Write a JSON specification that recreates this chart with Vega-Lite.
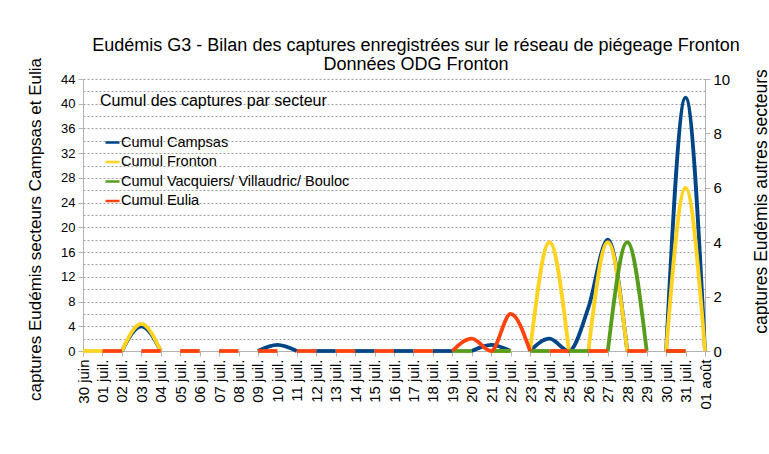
{
  "$schema": "https://vega.github.io/schema/vega-lite/v6.json",
  "width": 622,
  "height": 272,
  "autosize": {"type": "none"},
  "padding": {"left": 83, "top": 79, "right": 64, "bottom": 103},
  "background": "white",
  "config": {
    "font": "Liberation Sans",
    "view": {"stroke": null},
    "axis": {"domainColor": "#b3b3b3", "tickColor": "#b3b3b3", "labelColor": "black", "titleColor": "black", "titleFontWeight": "normal", "labelFont": "Liberation Sans", "titleFont": "Liberation Sans"}
  },
  "title": {
    "text": ["Eudémis G3 - Bilan des captures enregistrées sur le réseau de piégeage Fronton", "Données ODG Fronton"],
    "fontSize": 18,
    "fontWeight": "normal",
    "font": "Liberation Sans",
    "color": "black",
    "anchor": "middle",
    "frame": "group",
    "dx": 22,
    "lineHeight": 19,
    "offset": -16
  },
  "data": {
    "values": [
      {"d": "02 juil.", "s": "Cumul Campsas", "g": 1, "v": 0},
      {"d": "03 juil.", "s": "Cumul Campsas", "g": 1, "v": 4},
      {"d": "04 juil.", "s": "Cumul Campsas", "g": 1, "v": 0},
      {"d": "09 juil.", "s": "Cumul Campsas", "g": 2, "v": 0},
      {"d": "10 juil.", "s": "Cumul Campsas", "g": 2, "v": 1},
      {"d": "11 juil.", "s": "Cumul Campsas", "g": 2, "v": 0},
      {"d": "12 juil.", "s": "Cumul Campsas", "g": 3, "v": 0},
      {"d": "13 juil.", "s": "Cumul Campsas", "g": 3, "v": 0},
      {"d": "14 juil.", "s": "Cumul Campsas", "g": 4, "v": 0},
      {"d": "15 juil.", "s": "Cumul Campsas", "g": 4, "v": 0},
      {"d": "16 juil.", "s": "Cumul Campsas", "g": 5, "v": 0},
      {"d": "17 juil.", "s": "Cumul Campsas", "g": 5, "v": 0},
      {"d": "18 juil.", "s": "Cumul Campsas", "g": 6, "v": 0},
      {"d": "19 juil.", "s": "Cumul Campsas", "g": 6, "v": 0},
      {"d": "20 juil.", "s": "Cumul Campsas", "g": 7, "v": 0},
      {"d": "21 juil.", "s": "Cumul Campsas", "g": 7, "v": 1},
      {"d": "22 juil.", "s": "Cumul Campsas", "g": 7, "v": 0},
      {"d": "23 juil.", "s": "Cumul Campsas", "g": 8, "v": 0},
      {"d": "24 juil.", "s": "Cumul Campsas", "g": 8, "v": 2},
      {"d": "25 juil.", "s": "Cumul Campsas", "g": 8, "v": 0},
      {"d": "26 juil.", "s": "Cumul Campsas", "g": 8, "v": 7},
      {"d": "27 juil.", "s": "Cumul Campsas", "g": 8, "v": 18},
      {"d": "28 juil.", "s": "Cumul Campsas", "g": 8, "v": 0},
      {"d": "30 juil.", "s": "Cumul Campsas", "g": 9, "v": 0},
      {"d": "31 juil.", "s": "Cumul Campsas", "g": 9, "v": 41},
      {"d": "01 août", "s": "Cumul Campsas", "g": 9, "v": 0},

      {"d": "30 juin", "s": "Cumul Fronton", "g": 1, "v": 0},
      {"d": "01 juil.", "s": "Cumul Fronton", "g": 1, "v": 0},
      {"d": "02 juil.", "s": "Cumul Fronton", "g": 2, "v": 0},
      {"d": "03 juil.", "s": "Cumul Fronton", "g": 2, "v": 1},
      {"d": "04 juil.", "s": "Cumul Fronton", "g": 2, "v": 0},
      {"d": "05 juil.", "s": "Cumul Fronton", "g": 3, "v": 0},
      {"d": "06 juil.", "s": "Cumul Fronton", "g": 3, "v": 0},
      {"d": "21 juil.", "s": "Cumul Fronton", "g": 4, "v": 0},
      {"d": "22 juil.", "s": "Cumul Fronton", "g": 4, "v": 0},
      {"d": "23 juil.", "s": "Cumul Fronton", "g": 5, "v": 0},
      {"d": "24 juil.", "s": "Cumul Fronton", "g": 5, "v": 4},
      {"d": "25 juil.", "s": "Cumul Fronton", "g": 5, "v": 0},
      {"d": "26 juil.", "s": "Cumul Fronton", "g": 6, "v": 0},
      {"d": "27 juil.", "s": "Cumul Fronton", "g": 6, "v": 4},
      {"d": "28 juil.", "s": "Cumul Fronton", "g": 6, "v": 0},
      {"d": "30 juil.", "s": "Cumul Fronton", "g": 7, "v": 0},
      {"d": "31 juil.", "s": "Cumul Fronton", "g": 7, "v": 6},
      {"d": "01 août", "s": "Cumul Fronton", "g": 7, "v": 0},

      {"d": "19 juil.", "s": "Cumul Vacquiers/ Villaudric/ Bouloc", "g": 1, "v": 0},
      {"d": "20 juil.", "s": "Cumul Vacquiers/ Villaudric/ Bouloc", "g": 1, "v": 0},
      {"d": "21 juil.", "s": "Cumul Vacquiers/ Villaudric/ Bouloc", "g": 2, "v": 0},
      {"d": "22 juil.", "s": "Cumul Vacquiers/ Villaudric/ Bouloc", "g": 2, "v": 0},
      {"d": "23 juil.", "s": "Cumul Vacquiers/ Villaudric/ Bouloc", "g": 3, "v": 0},
      {"d": "24 juil.", "s": "Cumul Vacquiers/ Villaudric/ Bouloc", "g": 3, "v": 0},
      {"d": "25 juil.", "s": "Cumul Vacquiers/ Villaudric/ Bouloc", "g": 4, "v": 0},
      {"d": "26 juil.", "s": "Cumul Vacquiers/ Villaudric/ Bouloc", "g": 4, "v": 0},
      {"d": "27 juil.", "s": "Cumul Vacquiers/ Villaudric/ Bouloc", "g": 5, "v": 0},
      {"d": "28 juil.", "s": "Cumul Vacquiers/ Villaudric/ Bouloc", "g": 5, "v": 4},
      {"d": "29 juil.", "s": "Cumul Vacquiers/ Villaudric/ Bouloc", "g": 5, "v": 0},
      {"d": "30 juil.", "s": "Cumul Vacquiers/ Villaudric/ Bouloc", "g": 6, "v": 0},
      {"d": "31 juil.", "s": "Cumul Vacquiers/ Villaudric/ Bouloc", "g": 6, "v": 0},

      {"d": "01 juil.", "s": "Cumul Eulia", "g": 1, "v": 0},
      {"d": "02 juil.", "s": "Cumul Eulia", "g": 1, "v": 0},
      {"d": "03 juil.", "s": "Cumul Eulia", "g": 2, "v": 0},
      {"d": "04 juil.", "s": "Cumul Eulia", "g": 2, "v": 0},
      {"d": "05 juil.", "s": "Cumul Eulia", "g": 3, "v": 0},
      {"d": "06 juil.", "s": "Cumul Eulia", "g": 3, "v": 0},
      {"d": "07 juil.", "s": "Cumul Eulia", "g": 4, "v": 0},
      {"d": "08 juil.", "s": "Cumul Eulia", "g": 4, "v": 0},
      {"d": "09 juil.", "s": "Cumul Eulia", "g": 5, "v": 0},
      {"d": "10 juil.", "s": "Cumul Eulia", "g": 5, "v": 0},
      {"d": "11 juil.", "s": "Cumul Eulia", "g": 6, "v": 0},
      {"d": "12 juil.", "s": "Cumul Eulia", "g": 6, "v": 0},
      {"d": "13 juil.", "s": "Cumul Eulia", "g": 7, "v": 0},
      {"d": "14 juil.", "s": "Cumul Eulia", "g": 7, "v": 0},
      {"d": "15 juil.", "s": "Cumul Eulia", "g": 8, "v": 0},
      {"d": "16 juil.", "s": "Cumul Eulia", "g": 8, "v": 0},
      {"d": "17 juil.", "s": "Cumul Eulia", "g": 9, "v": 0},
      {"d": "18 juil.", "s": "Cumul Eulia", "g": 9, "v": 0},
      {"d": "19 juil.", "s": "Cumul Eulia", "g": 10, "v": 0},
      {"d": "20 juil.", "s": "Cumul Eulia", "g": 10, "v": 2},
      {"d": "21 juil.", "s": "Cumul Eulia", "g": 10, "v": 0},
      {"d": "22 juil.", "s": "Cumul Eulia", "g": 10, "v": 6},
      {"d": "23 juil.", "s": "Cumul Eulia", "g": 10, "v": 0},
      {"d": "24 juil.", "s": "Cumul Eulia", "g": 11, "v": 0},
      {"d": "25 juil.", "s": "Cumul Eulia", "g": 11, "v": 0},
      {"d": "26 juil.", "s": "Cumul Eulia", "g": 12, "v": 0},
      {"d": "27 juil.", "s": "Cumul Eulia", "g": 12, "v": 0},
      {"d": "28 juil.", "s": "Cumul Eulia", "g": 13, "v": 0},
      {"d": "29 juil.", "s": "Cumul Eulia", "g": 13, "v": 0},
      {"d": "30 juil.", "s": "Cumul Eulia", "g": 14, "v": 0},
      {"d": "31 juil.", "s": "Cumul Eulia", "g": 14, "v": 0}
    ]
  },
  "encoding": {
    "x": {
      "field": "d",
      "type": "ordinal",
      "scale": {"type": "point", "padding": 0, "domain": ["30 juin","01 juil.","02 juil.","03 juil.","04 juil.","05 juil.","06 juil.","07 juil.","08 juil.","09 juil.","10 juil.","11 juil.","12 juil.","13 juil.","14 juil.","15 juil.","16 juil.","17 juil.","18 juil.","19 juil.","20 juil.","21 juil.","22 juil.","23 juil.","24 juil.","25 juil.","26 juil.","27 juil.","28 juil.","29 juil.","30 juil.","31 juil.","01 août"]},
      "axis": {"title": null, "labelAngle": 270, "labelAlign": "right", "labelBaseline": "middle", "labelFontSize": 15, "labelPadding": 3, "tickSize": 5, "grid": false, "labelOverlap": false}
    },
    "color": {
      "field": "s",
      "type": "nominal",
      "scale": {"domain": ["Cumul Campsas", "Cumul Fronton", "Cumul Vacquiers/ Villaudric/ Bouloc", "Cumul Eulia"], "range": ["#004586", "#ffd320", "#579d1c", "#ff420e"]},
      "legend": {"orient": "none", "legendX": 17, "legendY": 14, "title": "Cumul des captures par secteur", "titleFontSize": 16, "titleFontWeight": "normal", "titleColor": "black", "titleBaseline": "top", "titlePadding": 25, "titleLimit": 0, "labelLimit": 0, "labelFontSize": 14.5, "labelColor": "black", "symbolType": "stroke", "symbolSize": 196, "symbolStrokeWidth": 2.5, "rowPadding": 4.5, "symbolOffset": 4, "labelOffset": 0, "padding": 0}
    },
    "detail": {"field": "g", "type": "nominal"}
  },
  "layer": [
    {
      "transform": [{"filter": "datum.s === 'Cumul Campsas'"}],
      "mark": {"type": "line", "interpolate": "monotone", "strokeWidth": 3.8},
      "encoding": {
        "y": {"field": "v", "type": "quantitative", "scale": {"domain": [0, 44], "nice": false},
          "axis": {"orient": "left", "values": [0,2,4,6,8,10,12,14,16,18,20,22,24,26,28,30,32,34,36,38,40,42,44], "labelExpr": "datum.value % 4 === 0 ? datum.label : ''", "tickOpacity": {"condition": {"test": "datum.value % 4 === 0", "value": 1}, "value": 0}, "grid": true, "gridColor": "#a0a0a0", "gridDash": [2, 2], "gridOpacity": 1, "gridWidth": 1.2, "labelFontSize": 13, "labelPadding": 3, "tickSize": 5, "title": "captures Eudémis secteurs Campsas et Eulia", "titleFontSize": 17, "titleAngle": 270, "titleBaseline": "alphabetic", "titleAlign": "center", "titleX": -43, "titleY": 150}}
      }
    },
    {
      "transform": [{"filter": "datum.s === 'Cumul Fronton'"}],
      "mark": {"type": "line", "interpolate": "monotone", "strokeWidth": 3.8},
      "encoding": {
        "y": {"field": "v", "type": "quantitative", "scale": {"domain": [0, 10], "nice": false},
          "axis": {"orient": "right", "values": [0,2,4,6,8,10], "grid": false, "labelFontSize": 15, "labelPadding": 3, "tickSize": 5, "title": "captures Eudémis autres secteurs", "titleFontSize": 17.5, "titleAngle": 270, "titleBaseline": "alphabetic", "titleAlign": "center", "titleX": 61, "titleY": 122}}
      }
    },
    {
      "transform": [{"filter": "datum.s === 'Cumul Vacquiers/ Villaudric/ Bouloc'"}],
      "mark": {"type": "line", "interpolate": "monotone", "strokeWidth": 3.8},
      "encoding": {
        "y": {"field": "v", "type": "quantitative", "scale": {"domain": [0, 10], "nice": false}, "axis": null}
      }
    },
    {
      "transform": [{"filter": "datum.s === 'Cumul Eulia'"}],
      "mark": {"type": "line", "interpolate": "monotone", "strokeWidth": 3.8},
      "encoding": {
        "y": {"field": "v", "type": "quantitative", "scale": {"domain": [0, 44], "nice": false}, "axis": null}
      }
    }
  ],
  "resolve": {"scale": {"y": "independent"}}
}
